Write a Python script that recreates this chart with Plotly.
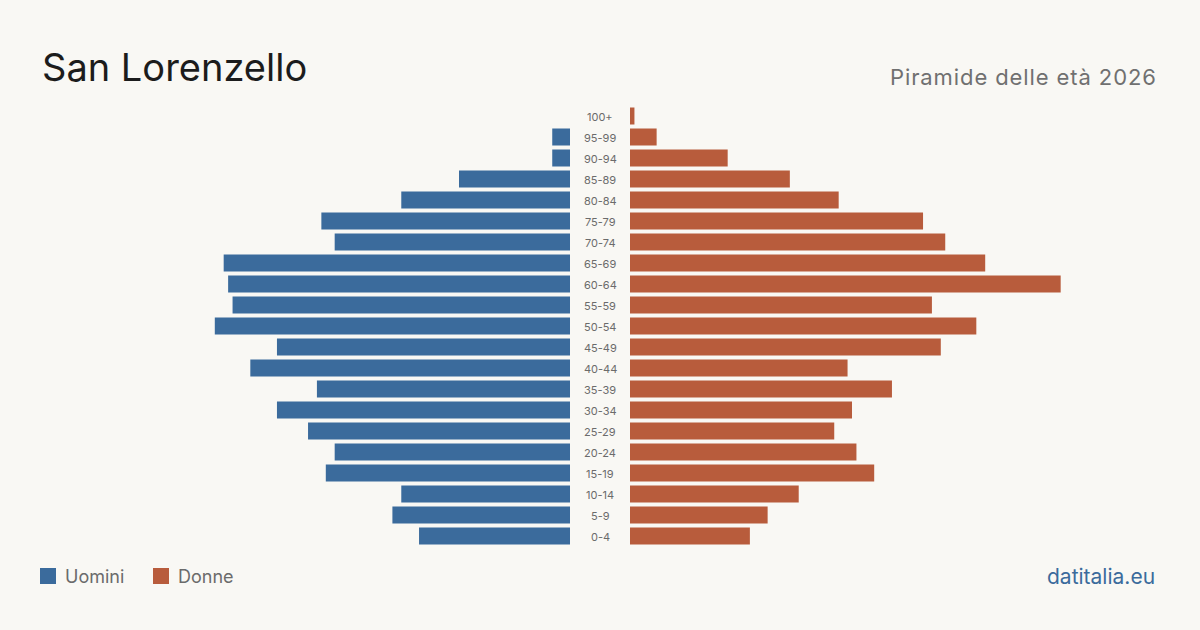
import plotly.graph_objects as go

W, H = 1200, 630

age_groups = ["0-4", "5-9", "10-14", "15-19", "20-24", "25-29", "30-34", "35-39",
              "40-44", "45-49", "50-54", "55-59", "60-64", "65-69", "70-74",
              "75-79", "80-84", "85-89", "90-94", "95-99", "100+"]
uomini = [34, 40, 38, 55, 53, 59, 66, 57, 72, 66, 80, 76, 77, 78, 53, 56, 38, 25, 4, 4, 0]
donne = [27, 31, 38, 55, 51, 46, 50, 59, 49, 70, 78, 68, 97, 80, 71, 66, 47, 36, 22, 6, 1]

BLUE = "#3b6b9c"
ORANGE = "#b85c3c"
BG = "#f9f8f4"
FONT = "Inter, Roboto, sans-serif"


def px(x):
    return x / W


def py(y):
    return 1 - y / H


x_max = 530 / 4.44

fig = go.Figure()
fig.add_trace(go.Bar(y=age_groups, x=uomini, orientation="h", marker_color=BLUE,
                     marker_line_width=0,
                     name="Uomini", xaxis="x", yaxis="y", showlegend=False,
                     hoverinfo="x+y"))
fig.add_trace(go.Bar(y=age_groups, x=donne, orientation="h", marker_color=ORANGE,
                     marker_line_width=0,
                     name="Donne", xaxis="x2", yaxis="y", showlegend=False,
                     hoverinfo="x+y"))

annotations = []
for i, g in enumerate(age_groups):
    annotations.append(dict(x=px(600), y=py(537 - 21 * i), xref="paper", yref="paper", text=g,
                            showarrow=False, xanchor="center", yanchor="middle",
                            font=dict(family=FONT, size=11, color="#6b6b6b")))

annotations += [
    dict(x=px(40), y=py(67), xref="paper", yref="paper", text="San Lorenzello",
         showarrow=False, xanchor="left", yanchor="middle",
         font=dict(family=FONT, size=38, color="#1c1c1c")),
    dict(x=px(1159), y=py(77), xref="paper", yref="paper",
         text="<span style='letter-spacing:0.9px'>Piramide delle età 2026</span>",
         showarrow=False, xanchor="right", yanchor="middle",
         font=dict(family=FONT, size=22, color="#707070")),
    dict(x=px(63), y=py(576), xref="paper", yref="paper", text="Uomini",
         showarrow=False, xanchor="left", yanchor="middle",
         font=dict(family=FONT, size=18, color="#6b6b6b")),
    dict(x=px(176), y=py(576), xref="paper", yref="paper", text="Donne",
         showarrow=False, xanchor="left", yanchor="middle",
         font=dict(family=FONT, size=18, color="#6b6b6b")),
    dict(x=px(1157), y=py(576), xref="paper", yref="paper", text="datitalia.eu",
         showarrow=False, xanchor="right", yanchor="middle",
         font=dict(family=FONT, size=21, color=BLUE)),
]

shapes = [
    dict(type="rect", xref="paper", yref="paper", x0=px(40), x1=px(56),
         y0=py(584), y1=py(568), fillcolor=BLUE, line=dict(width=0)),
    dict(type="rect", xref="paper", yref="paper", x0=px(153), x1=px(169),
         y0=py(584), y1=py(568), fillcolor=ORANGE, line=dict(width=0)),
]

fig.update_layout(
    width=W, height=H,
    margin=dict(l=0, r=0, t=0, b=0),
    paper_bgcolor=BG, plot_bgcolor=BG,
    bargap=4 / 21,
    xaxis=dict(domain=[px(40), px(570)], range=[x_max, 0], visible=False,
               showgrid=False, zeroline=False, fixedrange=True),
    xaxis2=dict(domain=[px(630), px(1160)], range=[0, x_max], visible=False,
                showgrid=False, zeroline=False, fixedrange=True),
    yaxis=dict(domain=[py(546.5), py(105.5)], range=[-0.5, 20.5], type="category",
               categoryorder="array", categoryarray=age_groups, visible=False,
               showgrid=False, fixedrange=True),
    annotations=annotations,
    shapes=shapes,
    showlegend=False,
)

fig.write_html("out.html")
